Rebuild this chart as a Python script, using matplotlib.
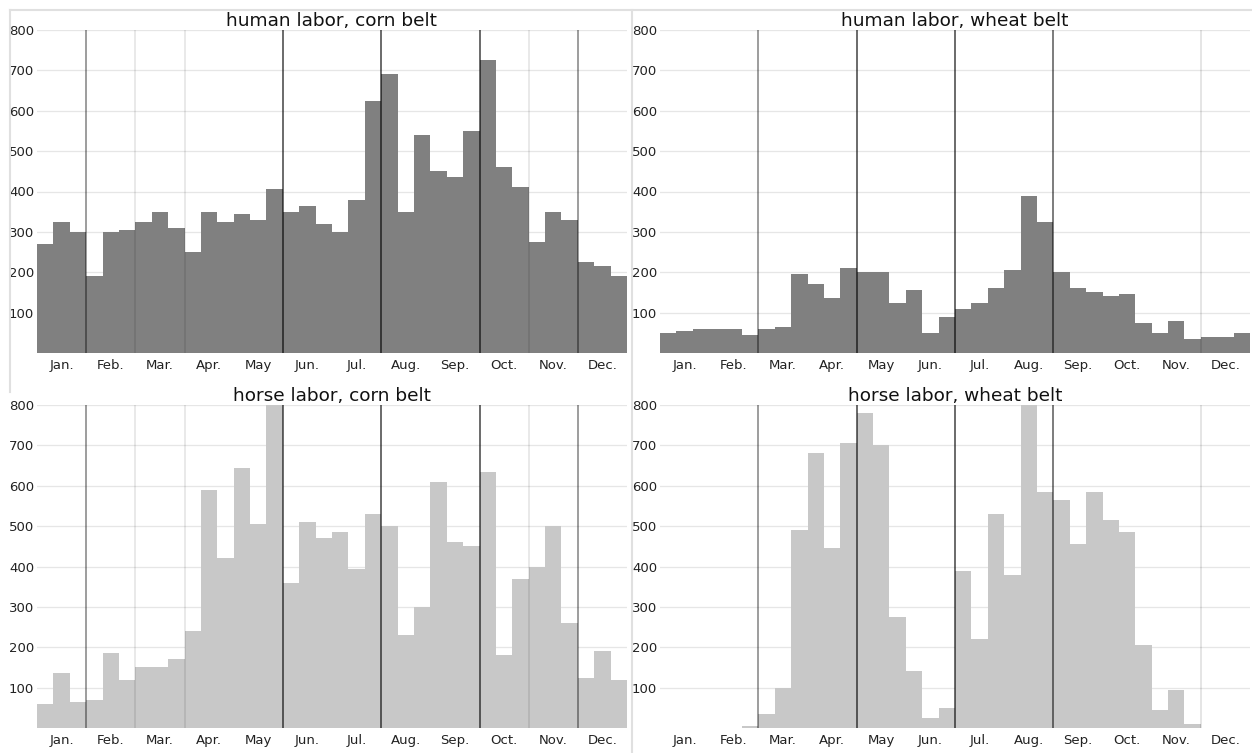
import numpy as np
import matplotlib
matplotlib.use("Agg")
from matplotlib import pyplot as plt
from matplotlib.lines import Line2D

months = ["Jan.", "Feb.", "Mar.", "Apr.", "May", "Jun.",
          "Jul.", "Aug.", "Sep.", "Oct.", "Nov.", "Dec."]

# labor per ten-day period (3 per month)
human_corn = [270, 325, 300, 190, 300, 305, 325, 350, 310, 250, 350, 325,
              345, 330, 405, 350, 365, 320, 300, 380, 625, 690, 350, 540,
              450, 435, 550, 725, 460, 410, 275, 350, 330, 225, 215, 190]
human_wheat = [50, 55, 60, 60, 60, 45, 60, 65, 195, 170, 135, 210,
               200, 200, 125, 155, 50, 90, 110, 125, 160, 205, 390, 325,
               200, 160, 150, 140, 145, 75, 50, 80, 35, 40, 40, 50]
horse_corn = [60, 135, 65, 70, 185, 120, 150, 150, 170, 240, 590, 420,
              645, 505, 800, 360, 510, 470, 485, 395, 530, 500, 230, 300,
              610, 460, 450, 635, 180, 370, 400, 500, 260, 125, 190, 120]
horse_wheat = [0, 0, 0, 0, 0, 5, 35, 100, 490, 680, 445, 705,
               780, 700, 275, 140, 25, 50, 390, 220, 530, 380, 800, 585,
               565, 455, 585, 515, 485, 205, 45, 95, 10, 0, 0, 0]

# season marker lines (period index, opacity)
corn_lines = [(3, 0.45), (6, 0.1), (9, 0.1), (15, 0.68),
              (21, 0.68), (27, 0.68), (30, 0.1), (33, 0.45)]
wheat_lines = [(6, 0.45), (12, 0.68), (18, 0.68), (24, 0.6), (33, 0.12)]

panels = [
    ("human labor, corn belt", human_corn, "#808080", corn_lines),
    ("human labor, wheat belt", human_wheat, "#808080", wheat_lines),
    ("horse labor, corn belt", horse_corn, "#c8c8c8", corn_lines),
    ("horse labor, wheat belt", horse_wheat, "#c8c8c8", wheat_lines),
]

W, H = 1252, 753
fig = plt.figure(figsize=(W / 100, H / 100), dpi=100)

lefts = [37, 660]
tops = [30, 405]
aw, ah = 590, 323

for k, (title, vals, col, vlines) in enumerate(panels):
    r, c = divmod(k, 2)
    ax = fig.add_axes([lefts[c] / W, 1 - (tops[r] + ah) / H, aw / W, ah / H])
    x = np.arange(len(vals))
    ax.bar(x, vals, width=1, align="edge", color=col, zorder=2, linewidth=0)
    for pos, a in vlines:
        ax.axvline(pos, color="black", alpha=a, lw=1.2, zorder=3)
    ax.set_xlim(0, 36)
    ax.set_ylim(0, 800)
    ax.set_yticks(range(100, 801, 100))
    ax.set_xticks(np.arange(1.5, 36, 3))
    ax.set_xticklabels(months)
    ax.tick_params(length=0, labelsize=9.5, colors="#222222")
    ax.tick_params(axis="y", pad=2)
    ax.tick_params(axis="x", pad=4)
    ax.grid(axis="y", color="#e6e6e6", lw=0.9, zorder=0)
    ax.set_axisbelow(True)
    for s in ax.spines.values():
        s.set_visible(False)
    ax.set_title(title, fontsize=13.3, pad=0.5, color="#111111")

# outer frame lines
lc = "#e0e0e0"
fig.add_artist(Line2D([10 / W, 1], [1 - 10 / H, 1 - 10 / H], color=lc, lw=1.5,
                      transform=fig.transFigure))
fig.add_artist(Line2D([10 / W, 10 / W], [1 - 10 / H, 1 - 392 / H], color=lc, lw=1.5,
                      transform=fig.transFigure))
fig.add_artist(Line2D([632 / W, 632 / W], [1 - 10 / H, 0], color=lc, lw=1.5,
                      transform=fig.transFigure))

fig.savefig("out.png", dpi=100)
